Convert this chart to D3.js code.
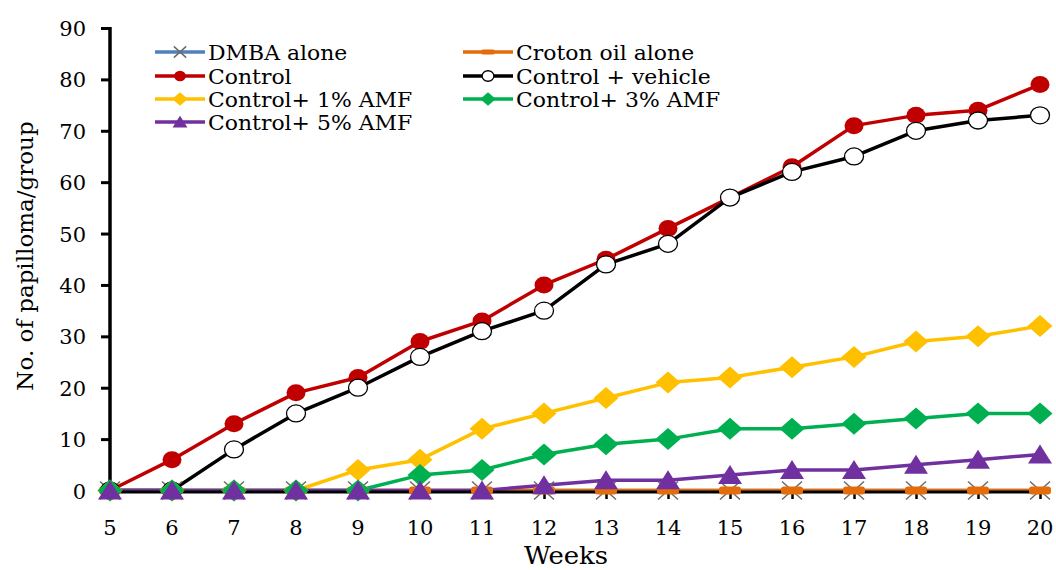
<!DOCTYPE html>
<html>
<head>
<meta charset="utf-8">
<script src="https://cdn.jsdelivr.net/npm/d3@7"></script>
<style>
  html, body { margin: 0; padding: 0; background: #fff; }
  svg { display: block; }
</style>
</head>
<body>
<svg id="chart" width="1056" height="570"></svg>
<script>
// Weeks after initiation and papilloma counts per group
const weeks = [5, 6, 7, 8, 9, 10, 11, 12, 13, 14, 15, 16, 17, 18, 19, 20];
const dmbaAlone      = [0, 0, 0, 0, 0, 0, 0, 0, 0, 0, 0, 0, 0, 0, 0, 0];
const crotonOilAlone = [0, 0, 0, 0, 0, 0, 0, 0, 0, 0, 0, 0, 0, 0, 0, 0];
const control        = [0, 6, 13, 19, 22, 29, 33, 40, 45, 51, 57, 63, 71, 73, 74, 79];
const controlVehicle = [0, 0, 8, 15, 20, 26, 31, 35, 44, 48, 57, 62, 65, 70, 72, 73];
const amf1           = [0, 0, 0, 0, 4, 6, 12, 15, 18, 21, 22, 24, 26, 29, 30, 32];
const amf3           = [0, 0, 0, 0, 0, 3, 4, 7, 9, 10, 12, 12, 13, 14, 15, 15];
const amf5           = [0, 0, 0, 0, 0, 0, 0, 1, 2, 2, 3, 4, 4, 5, 6, 7];
const yTicks = [0, 10, 20, 30, 40, 50, 60, 70, 80, 90];
const xLabel = "Weeks";
const yLabel = "No. of papilloma/group";

const series = [
  { name: "DMBA alone",        values: dmbaAlone,      color: "#4F81BD", marker: "x" },
  { name: "Croton oil alone",  values: crotonOilAlone, color: "#E46C0A", marker: "dash" },
  { name: "Control",           values: control,        color: "#C00000", marker: "dot" },
  { name: "Control + vehicle", values: controlVehicle, color: "#000000", marker: "ring" },
  { name: "Control+ 1% AMF",   values: amf1,           color: "#FFC000", marker: "diamond" },
  { name: "Control+ 3% AMF",   values: amf3,           color: "#00B050", marker: "diamond" },
  { name: "Control+ 5% AMF",   values: amf5,           color: "#7030A0", marker: "triangle" }
];

const FONT = "DejaVu Serif";

const svg = d3.select("#chart");
const x = d3.scaleLinear().domain([5, 20]).range([110, 1040]);
const y = d3.scaleLinear().domain([0, 90]).range([490.5, 28]);

function addText(g, px, py, str, size, sx, anchor) {
  return g.append("text")
    .attr("transform", `translate(${px},${py}) scale(${sx},1)`)
    .attr("text-anchor", anchor)
    .style("font-family", FONT)
    .style("font-size", size + "px")
    .attr("fill", "#000")
    .text(str);
}

// Marker shapes, s scales the size (legend uses smaller ones)
function drawMarker(g, type, color, s) {
  if (type === "x") {
    g.append("path")
      .attr("d", `M${-10*s},${-9*s}L${10*s},${9*s}M${-10*s},${9*s}L${10*s},${-9*s}`)
      .attr("stroke", "#6b6b6b").attr("stroke-width", 1.5).attr("fill", "none");
  } else if (type === "dash") {
    g.append("rect")
      .attr("x", -11*s).attr("y", -4*s).attr("width", 22*s).attr("height", 8*s)
      .attr("rx", 3*s).attr("fill", color);
  } else if (type === "dot") {
    g.append("ellipse").attr("rx", 9.5*s).attr("ry", 8.5*s).attr("fill", color);
  } else if (type === "ring") {
    g.append("ellipse").attr("rx", 9.5*s).attr("ry", 8.5*s)
      .attr("fill", "#fff").attr("stroke", "#000").attr("stroke-width", 1.3);
  } else if (type === "diamond") {
    g.append("path")
      .attr("d", `M0,${-11*s}L${12.5*s},0L0,${11*s}L${-12.5*s},0Z`).attr("fill", color);
  } else if (type === "triangle") {
    g.append("path")
      .attr("d", `M0,${-10*s}L${12*s},${9*s}L${-12*s},${9*s}Z`).attr("fill", color);
  }
}

const line = d3.line().x((d, i) => x(weeks[i])).y(d => y(d));

// Series lines
const linesG = svg.append("g");
series.forEach(s => {
  linesG.append("path")
    .datum(s.values)
    .attr("d", line)
    .attr("fill", "none")
    .attr("stroke", s.color)
    .attr("stroke-width", 3.5)
    .attr("stroke-linejoin", "round");
});

// Y axis
const yAxis = svg.append("g")
  .attr("transform", "translate(110,0)")
  .call(d3.axisLeft(y).tickValues(yTicks).tickSize(9).tickSizeOuter(0).tickFormat(""));
yAxis.select(".domain").attr("stroke", "#000").attr("stroke-width", 3.5)
  .attr("d", `M0,${y(90) - 1}V${y(0) + 3}`);
yAxis.selectAll(".tick line").attr("stroke", "#000").attr("stroke-width", 3);
yTicks.forEach(t => addText(svg, 86, y(t) + 8, String(t), 21, 1, "end"));

// X axis
const xAxis = svg.append("g")
  .attr("transform", "translate(0,492)")
  .call(d3.axisBottom(x).tickValues(weeks).tickSize(7).tickSizeOuter(0).tickFormat(""));
xAxis.select(".domain").attr("stroke", "#000").attr("stroke-width", 3)
  .attr("d", `M${x(5)},0H${x(20) + 2}`);
xAxis.selectAll(".tick line").attr("stroke", "#000").attr("stroke-width", 2.5);
weeks.forEach(w => addText(svg, x(w), 535, String(w), 21, 1, "middle"));

// Series markers
series.forEach(s => {
  s.values.forEach((v, i) => {
    const g = svg.append("g").attr("transform", `translate(${x(weeks[i])},${y(v)})`);
    drawMarker(g, s.marker, s.color, 1);
  });
});

// Axis titles
addText(svg, 566, 564, xLabel, 24, 1.08, "middle");
svg.append("text")
  .attr("transform", "translate(33,256) rotate(-90)")
  .attr("text-anchor", "middle")
  .style("font-family", FONT)
  .style("font-size", "23px")
  .attr("fill", "#000")
  .text(yLabel);

// Legend, two columns
const legendCols = [155, 463];
const legendRows = [52, 76, 99, 122];
series.forEach((s, i) => {
  const cx = legendCols[i % 2];
  const cy = legendRows[Math.floor(i / 2)];
  const g = svg.append("g").attr("transform", `translate(${cx},${cy})`);
  g.append("line").attr("x1", 0).attr("x2", 50).attr("y1", 0).attr("y2", 0)
    .attr("stroke", s.color).attr("stroke-width", 3.5);
  const m = g.append("g").attr("transform", "translate(25,0)");
  drawMarker(m, s.marker, s.color, 0.62);
  addText(g, 53, 7.5, s.name, 20.5, 1.07, "start");
});
</script>
</body>
</html>
